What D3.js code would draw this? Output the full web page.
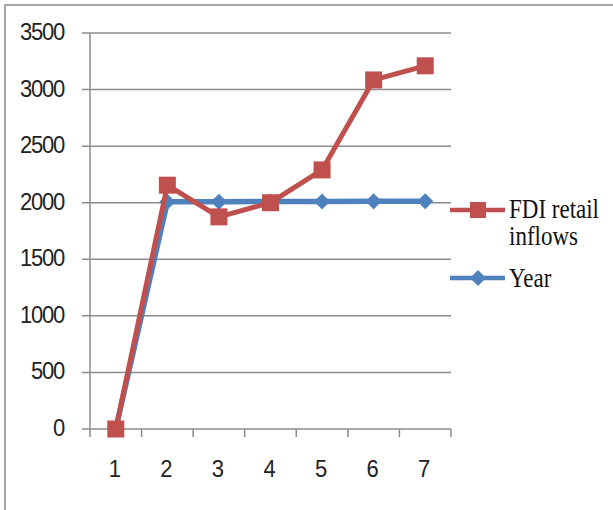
<!DOCTYPE html>
<html>
<head>
<meta charset="utf-8">
<script src="https://cdn.jsdelivr.net/npm/d3@7"></script>
<style>
  html, body { margin: 0; padding: 0; background: #fff; }
  svg { display: block; }
</style>
</head>
<body>
<svg id="chart" width="613" height="510"></svg>
<script>
// Chart data
const categories = [1, 2, 3, 4, 5, 6, 7];
const fdiRetailInflows = [0, 2155, 1875, 2000, 2290, 3085, 3210];
const yearValues = [0, 2008, 2009, 2010, 2011, 2012, 2013];
const yTicks = [0, 500, 1000, 1500, 2000, 2500, 3000, 3500];
const seriesNames = ["FDI retail inflows", "Year"];

const svg = d3.select("#chart");
const W = 613, H = 510;
const plot = { left: 90, right: 451, top: 33, bottom: 429 };
const red = "#C0504D", blue = "#4F81BD", gridCol = "#8C8C8C";

// Outer chart frame
svg.append("rect")
  .attr("x", 5).attr("y", 5)
  .attr("width", W + 10).attr("height", H + 10)
  .attr("fill", "#fff").attr("stroke", "#A6A6A6").attr("stroke-width", 2);

const x = d3.scaleBand().domain(categories).range([plot.left, plot.right]).padding(0);
const y = d3.scaleLinear().domain([0, 3500]).range([plot.bottom, plot.top]);
const cx = c => x(c) + x.bandwidth() / 2;

// Horizontal gridlines with short outer ticks
svg.append("g").selectAll("line").data(yTicks).join("line")
  .attr("x1", plot.left - 8).attr("x2", plot.right)
  .attr("y1", d => y(d)).attr("y2", d => y(d))
  .attr("stroke", gridCol).attr("stroke-width", 1.5);

// Vertical axis line
svg.append("line")
  .attr("x1", plot.left).attr("x2", plot.left)
  .attr("y1", plot.top).attr("y2", plot.bottom + 8)
  .attr("stroke", gridCol).attr("stroke-width", 1.5);

// Category boundary ticks on the x axis
const edges = categories.map(c => x(c) + x.bandwidth());
svg.append("g").selectAll("line").data(edges).join("line")
  .attr("x1", d => d).attr("x2", d => d)
  .attr("y1", plot.bottom).attr("y2", plot.bottom + 8)
  .attr("stroke", gridCol).attr("stroke-width", 1.5);

const tickFont = "'Liberation Sans', Arial, sans-serif";

// Y tick labels
svg.append("g").selectAll("text").data(yTicks).join("text")
  .attr("transform", d => `translate(64,${y(d) + 7}) scale(1,1.1)`)
  .attr("text-anchor", "end")
  .attr("font-family", tickFont).attr("font-size", 22)
  .attr("letter-spacing", -1.2)
  .attr("fill", "#222")
  .text(d => d);

// X tick labels
svg.append("g").selectAll("text").data(categories).join("text")
  .attr("transform", d => `translate(${cx(d) - 1},477) scale(1,1.1)`)
  .attr("text-anchor", "middle")
  .attr("font-family", tickFont).attr("font-size", 22)
  .attr("fill", "#222")
  .text(d => d);

const line = d3.line().x((d, i) => cx(categories[i])).y(d => y(d));
const diamond = d3.symbol().type(d3.symbolDiamond2).size(165);

// Year series (drawn underneath)
svg.append("path").datum(yearValues)
  .attr("d", line).attr("fill", "none")
  .attr("stroke", blue).attr("stroke-width", 5.5).attr("stroke-linejoin", "round");
svg.append("g").selectAll("path").data(yearValues).join("path")
  .attr("d", diamond)
  .attr("transform", (d, i) => `translate(${cx(categories[i])},${y(d)})`)
  .attr("fill", blue);

// FDI retail inflows series
svg.append("path").datum(fdiRetailInflows)
  .attr("d", line).attr("fill", "none")
  .attr("stroke", red).attr("stroke-width", 5).attr("stroke-linejoin", "round");
const sq = 17;
svg.append("g").selectAll("rect").data(fdiRetailInflows).join("rect")
  .attr("x", (d, i) => cx(categories[i]) - sq / 2)
  .attr("y", d => y(d) - sq / 2)
  .attr("width", sq).attr("height", sq)
  .attr("fill", red);

// Legend
const legendFont = "'Liberation Serif', 'Times New Roman', serif";
const leg = svg.append("g");
// FDI entry
leg.append("line").attr("x1", 450).attr("x2", 505).attr("y1", 210).attr("y2", 210)
  .attr("stroke", red).attr("stroke-width", 4.5);
leg.append("rect").attr("x", 478 - 8).attr("y", 210 - 8).attr("width", 16).attr("height", 16)
  .attr("fill", red);
const words = seriesNames[0].split(" ");
const fdiLines = [words.slice(0, 2).join(" "), words.slice(2).join(" ")];
leg.selectAll("text.fdi").data(fdiLines).join("text")
  .attr("class", "fdi")
  .attr("transform", (d, i) => `translate(509,${218 + i * 27}) scale(1,1.15)`)
  .attr("font-family", legendFont).attr("font-size", 23)
  .attr("fill", "#111")
  .text(d => d);
// Year entry
leg.append("line").attr("x1", 450).attr("x2", 505).attr("y1", 278).attr("y2", 278)
  .attr("stroke", blue).attr("stroke-width", 4.5);
leg.append("path").attr("d", diamond).attr("transform", "translate(478,278)").attr("fill", blue);
leg.append("text")
  .attr("transform", "translate(509,287) scale(1,1.15)")
  .attr("font-family", legendFont).attr("font-size", 23)
  .attr("fill", "#111")
  .text(seriesNames[1]);
</script>
</body>
</html>
